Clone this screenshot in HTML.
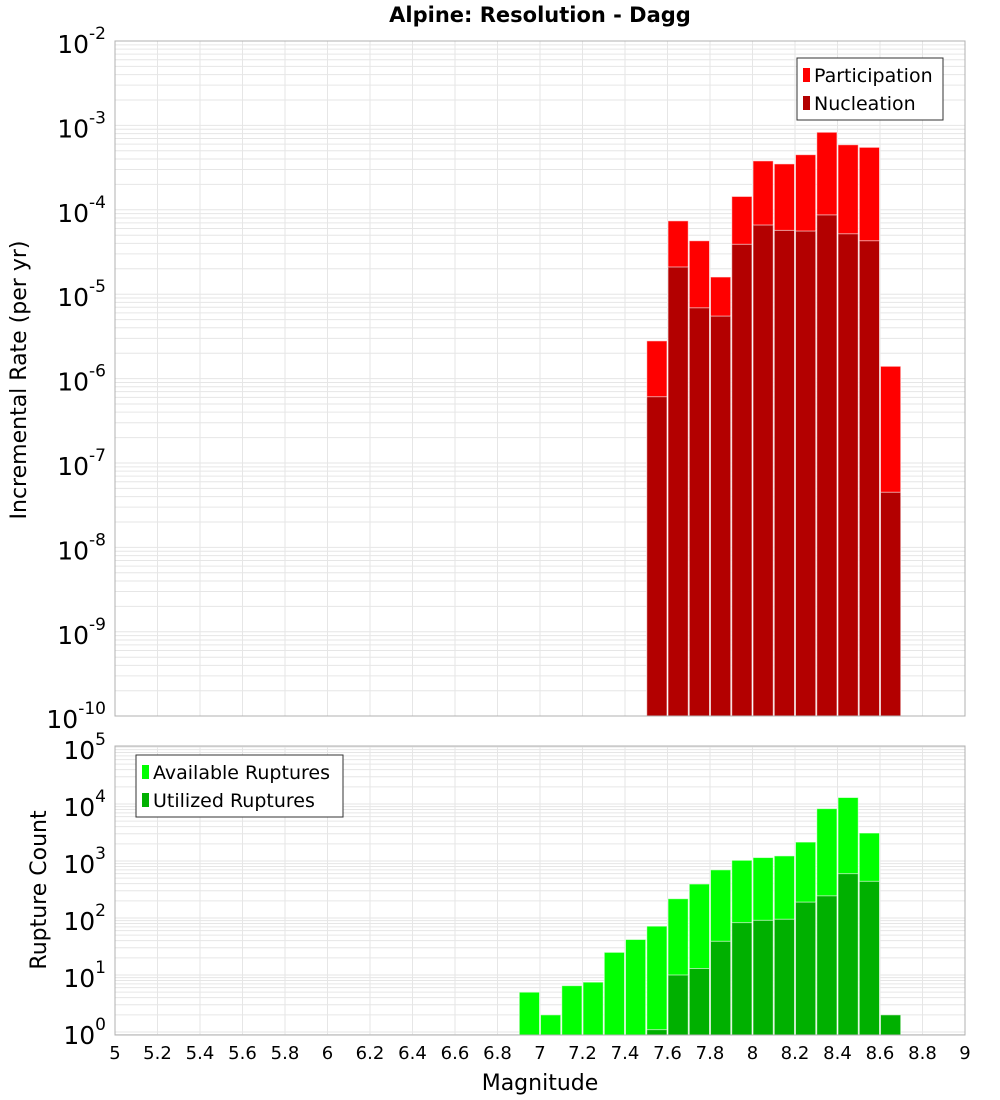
<!DOCTYPE html>
<html><head><meta charset="utf-8">
<style>
html,body{margin:0;padding:0;background:#fff;}
svg{display:block;font-family:"DejaVu Sans","Liberation Sans",sans-serif;}
</style></head>
<body>
<svg id="chart" width="1000" height="1100" viewBox="0 0 1000 1100" xmlns="http://www.w3.org/2000/svg">
<text x="540" y="22" text-anchor="middle" font-size="21" font-weight="bold">Alpine: Resolution - Dagg</text>
<g id="top"></g>
<g id="bot"></g>
<text x="540" y="1090" text-anchor="middle" font-size="22">Magnitude</text>
<text transform="translate(26,380) rotate(-90)" text-anchor="middle" font-size="22">Incremental Rate (per yr)</text>
<text transform="translate(46,890) rotate(-90)" text-anchor="middle" font-size="22">Rupture Count</text>
</svg>
<script>
const mags = [6.95,7.05,7.15,7.25,7.35,7.45,7.55,7.65,7.75,7.85,7.95,8.05,8.15,8.25,8.35,8.45,8.55,8.65];
const participation = [0,0,0,0,0,0,2.8e-6,7.4e-5,4.3e-5,1.6e-5,1.44e-4,3.8e-4,3.5e-4,4.5e-4,8.3e-4,5.9e-4,5.5e-4,1.4e-6];
const nucleation = [0,0,0,0,0,0,6.1e-7,2.1e-5,6.9e-6,5.5e-6,3.9e-5,6.6e-5,5.7e-5,5.6e-5,8.7e-5,5.2e-5,4.3e-5,4.5e-8];
const available = [5,2,6.5,7.5,25,42,72,218,395,700,1030,1150,1230,2150,8300,13000,3100,0];
const utilized = [0,0,0,0,0,0,1.1,10,13,39,83,91,95,190,245,600,440,2];
const xTicks = [5,5.2,5.4,5.6,5.8,6,6.2,6.4,6.6,6.8,7,7.2,7.4,7.6,7.8,8,8.2,8.4,8.6,8.8,9];
const topExps = [-10,-9,-8,-7,-6,-5,-4,-3,-2];
const botExps = [0,1,2,3,4,5];

const NS="http://www.w3.org/2000/svg";
const L=115,R=965;
const xs=m=>L+(m-5)/4*(R-L);
const yTop=v=>41+(-2-Math.log10(v))*84.4;
const TB=716;
const yBot=v=>1032-Math.log10(v)*57;
const BT=746,BB=1035;
function mk(tag,attrs,parent){const e=document.createElementNS(NS,tag);for(const k in attrs)e.setAttribute(k,attrs[k]);parent.appendChild(e);return e;}

function panel(g,top,bottom,exps,ys){
  const lo=exps[0],hi=exps[exps.length-1];
  for(let e=lo-1;e<=hi;e++){for(let k=1;k<10;k++){const v=k*Math.pow(10,e);const y=ys(v);if(y<top-0.1||y>bottom+0.1)continue;
    const ln=mk('line',{x1:L,x2:R,y1:y,y2:y,stroke:'#e6e6e6','stroke-width':1},g);
    
    }}
  xTicks.forEach(t=>{const ln=mk('line',{x1:xs(t),x2:xs(t),y1:top,y2:bottom,stroke:'#e6e6e6','stroke-width':1},g);
    
    });
  exps.forEach(e=>{const y=ys(Math.pow(10,e));
    const t=mk('text',{x:106,y:y+12,'text-anchor':'end','font-size':25},g);
    
    
    t.textContent='10';
    const s=mk('tspan',{dy:-14,'font-size':17},t);s.textContent=String(e);});
}
function bars(g,arr,ys,bottom,color,name){
  arr.forEach((v,i)=>{if(!(v>0))return;const x0=xs(mags[i]-0.05),x1=xs(mags[i]+0.05);const y=ys(v);
    const r=mk('rect',{x:x0+0.5,y:y,width:x1-x0-1,height:bottom-y,fill:color,stroke:'rgba(255,255,255,0.6)','stroke-width':1},g);
    
    });
}
const gt=document.getElementById('top'),gb=document.getElementById('bot');
panel(gt,41,TB,topExps,yTop);
bars(gt,participation,yTop,TB,'#ff0000','participation-bar');
bars(gt,nucleation,yTop,TB,'#b30000','nucleation-bar');
mk('rect',{x:L,y:41,width:R-L,height:TB-41,fill:'none',stroke:'#b0b0b0','stroke-width':1},gt);
panel(gb,BT,BB,botExps,yBot);
bars(gb,available,yBot,BB,'#00ff00','available-bar');
bars(gb,utilized,yBot,BB,'#00b000','utilized-bar');
mk('rect',{x:L,y:BT,width:R-L,height:BB-BT,fill:'none',stroke:'#b0b0b0','stroke-width':1},gb);
xTicks.forEach(t=>{const tx=mk('text',{x:xs(t),y:1059,'text-anchor':'middle','font-size':18},gb);
  
  
  tx.textContent=String(t);});
function legend(g,x,y,w,items){
  const h=items.length*28+6;
  const b=mk('rect',{x:x,y:y,width:w,height:h,fill:'#fff',stroke:'#333','stroke-width':1},g);
  
  
  items.forEach((it,i)=>{const cy=y+17+i*28;
    mk('rect',{x:x+6,y:cy-7,width:7,height:14,fill:it[1]},g);
    const t=mk('text',{x:x+17,y:cy+7,'font-size':19},g);
    
    
    t.textContent=it[0];});
}
legend(gt,797,58,146,[['Participation','#ff0000'],['Nucleation','#b30000']]);
legend(gb,136,755,207,[['Available Ruptures','#00ff00'],['Utilized Ruptures','#00b000']]);
</script>
</body></html>
